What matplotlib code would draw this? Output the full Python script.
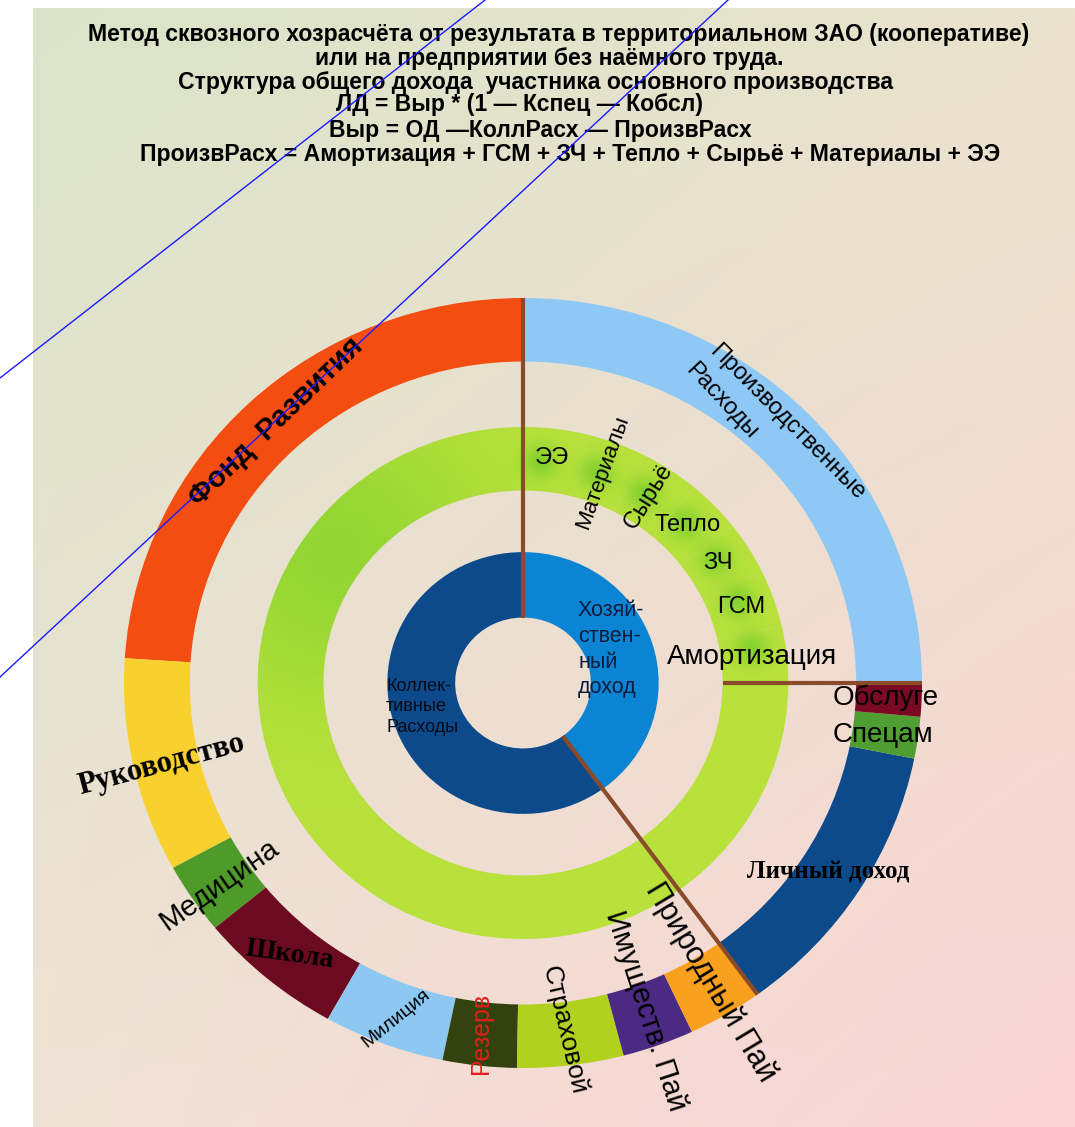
import numpy as np
import matplotlib.pyplot as plt
from matplotlib.patches import Wedge
from matplotlib import font_manager

# outer ring, counterclockwise from 3 o'clock, share of total income (%)
outer_labels = ['Производственные Расходы', 'Фонд  Развития', 'Руководство', 'Медицина',
                'Школа', 'Милиция', 'Резерв', 'Страховой', 'Имуществ. Пай',
                'Природный Пай', 'Личный доход', 'Спецам', 'Обслуге']
outer_values = [25.0, 24.0, 9.0, 3.0, 5.9, 4.9, 3.0, 4.3, 2.9, 3.1, 11.8, 1.75, 1.4]
outer_colors = ['#8ec9f6', '#f44d12', '#f9d12e', '#4f9b2a', '#6c0a22', '#8cc8f2',
                '#33420f', '#b2d11e', '#4a2a82', '#f9a11e', '#0c4a8c', '#4e9e32', '#7a0a24']

# middle ring: production costs, rest of the income unlabelled
middle_labels = ['Амортизация', 'ГСМ', 'ЗЧ', 'Тепло', 'Сырьё', 'Материалы', 'ЭЭ', '']
middle_values = [3.6, 3.6, 3.3, 3.3, 3.6, 3.6, 3.9, 75.1]

# inner ring, counterclockwise from 12 o'clock
inner_labels = ['Коллективные Расходы', 'Хозяйственный доход']
inner_values = [60.0, 40.0]
inner_colors = ['#0c4a8c', '#0b84d4']

title_lines = [
    'Метод сквозного хозрасчёта от результата в территориальном ЗАО (кооперативе)',
    'или на предприятии без наёмного труда.',
    'Структура общего дохода  участника основного производства',
    'ЛД = Выр * (1 — Кспец — Кобсл)',
    'Выр = ОД —КоллРасх — ПроизвРасх',
    'ПроизвРасх = Амортизация + ГСМ + ЗЧ + Тепло + Сырьё + Материалы + ЭЭ',
]

W, H = 1075, 1127
CX, CY = 523, 683          # pie centre in px
RX, RY = 399, 385          # outer radius in px (the picture is slightly squashed)


def P(x, y):
    # pixel position -> data coords (pie radius 1)
    return (x - CX) / RX, (CY - y) / RY


def has_font(name):
    try:
        font_manager.findfont(name, fallback_to_default=False)
        return True
    except Exception:
        return False


sans = 'Liberation Sans' if has_font('Liberation Sans') else 'DejaVu Sans'
serif = 'Liberation Serif' if has_font('Liberation Serif') else 'DejaVu Serif'
narrow = 'Liberation Sans Narrow' if has_font('Liberation Sans Narrow') else sans

fig = plt.figure(figsize=(W / 100, H / 100), dpi=100, facecolor='white')
ax = fig.add_axes([0, 0, 1, 1])
xlim = (P(0, 0)[0], P(W, 0)[0])
ylim = (P(0, H)[1], P(0, 0)[1])

# background panel, soft gradient
corners = np.array([[[218, 228, 200], [234, 227, 206]],
                    [[240, 226, 214], [251, 212, 212]]]) / 255
gy, gx = np.mgrid[0:1:200j, 0:1:200j]
bg = (corners[0, 0] * ((1 - gx) * (1 - gy))[..., None] + corners[0, 1] * (gx * (1 - gy))[..., None]
      + corners[1, 0] * ((1 - gx) * gy)[..., None] + corners[1, 1] * (gx * gy)[..., None])
x0, y1 = P(33, 8)
x1, y0 = P(W, H)
ax.imshow(bg, extent=[x0, x1, y0, y1], origin='upper', aspect='auto', zorder=0)

ring_w = 0.165
outer_w, _ = ax.pie(outer_values, radius=1.0, startangle=0, colors=outer_colors,
                    wedgeprops=dict(width=ring_w, linewidth=0))
mid_w, _ = ax.pie(middle_values, radius=0.665, startangle=0, colors=['#b8e13c'] * len(middle_values),
                  wedgeprops=dict(width=ring_w, linewidth=0))
in_w, _ = ax.pie(inner_values, radius=0.34, startangle=90, colors=inner_colors,
                 wedgeprops=dict(width=0.17, linewidth=0))
for w in outer_w + mid_w + in_w:
    w.set_zorder(1)

# darker green glow at the start of each middle wedge
xs = np.linspace(-0.7, 0.7, 500)
X, Y = np.meshgrid(xs, xs)
alpha = np.zeros_like(X)
for w in mid_w[:-1]:
    a = np.deg2rad(w.theta2 - 4)
    sx, sy = 0.58 * np.cos(a), 0.58 * np.sin(a)
    alpha += 0.6 * np.exp(-((X - sx) ** 2 + (Y - sy) ** 2) / (2 * 0.03 ** 2))
big = mid_w[-1]
a = np.deg2rad(big.theta1 + 55)
alpha += 0.45 * np.exp(-((X - 0.58 * np.cos(a)) ** 2 + (Y - 0.58 * np.sin(a)) ** 2) / (2 * 0.25 ** 2))
glow = np.zeros(X.shape + (4,))
glow[..., :3] = np.array([100, 200, 40]) / 255
glow[..., 3] = np.clip(alpha, 0, 1)
im = ax.imshow(glow, extent=[-0.7, 0.7, -0.7, 0.7], origin='lower', aspect='auto', zorder=2)
ring = Wedge((0, 0), 0.665, 0, 360, width=ring_w, transform=ax.transData)
im.set_clip_path(ring)

# brown separators
brown = '#8a4b2b'
seps = [(in_w[0].theta1, 0.17), (in_w[0].theta2, 0.17), (mid_w[0].theta1, 0.5)]
for ang, r0 in seps:
    t = np.deg2rad(ang)
    ax.plot([r0 * np.cos(t), np.cos(t)], [r0 * np.sin(t), np.sin(t)], color=brown, lw=3,
            solid_capstyle='butt', zorder=3)

# labels: px position, rotation, size, font, weight, colour
S, SB, RB = (sans, 'normal'), (sans, 'bold'), (serif, 'bold')
layout = {
    'Производственные Расходы': [(787, 422, -45, 17, S, 'black'), (722, 401, -47, 17, S, 'black')],
    'Фонд  Развития': [(276, 422, 44, 21, SB, 'black')],
    'Руководство': [(162, 765, 15, 22, RB, 'black')],
    'Медицина': [(219, 885, 35, 21, S, 'black')],
    'Школа': [(290, 955, -8, 20, RB, 'black')],
    'Милиция': [(396, 1018, 39, 14, S, 'black')],
    'Резерв': [(481, 1033, 90, 18, S, '#e0201a')],
    'Страховой': [(564, 1030, -77, 19, S, 'black')],
    'Имуществ. Пай': [(646, 1011, -72, 21, S, 'black')],
    'Природный Пай': [(710, 982, -59, 22, S, 'black')],
    'Личный доход': [(828, 872, 0, 18, RB, 'black')],
    'Спецам': [(883, 735, 0, 20, S, 'black')],
    'Обслуге': [(886, 698, 0, 20, S, 'black')],
    'Амортизация': [(752, 657, 0, 20, S, 'black')],
    'ГСМ': [(741, 607, 0, 17, S, 'black')],
    'ЗЧ': [(718, 563, 0, 17, S, 'black')],
    'Тепло': [(688, 525, 0, 17, S, 'black')],
    'Сырьё': [(649, 496, 58, 17, S, 'black')],
    'Материалы': [(603, 472, 70, 16, S, 'black')],
    'ЭЭ': [(552, 458, 0, 17, S, 'black')],
}
for name in outer_labels + middle_labels:
    if name not in layout:
        continue
    places = layout[name]
    parts = name.split(' ') if len(places) > 1 else [name]
    for part, (x, y, rot, size, (fam, wt), col) in zip(parts, places):
        ax.text(*P(x, y), part, rotation=rot, rotation_mode='anchor', ha='center', va='center',
                fontsize=size, family=fam, weight=wt, color=col, zorder=5)

ax.text(*P(578, 600), 'Хозяй-\nствен-\nный\nдоход', ha='left', va='top', fontsize=15.5,
        family=sans, color='#101c3c', linespacing=1.3, zorder=5)
ax.text(*P(386, 678), 'Коллек-\nтивные\nРасходы', ha='left', va='top', fontsize=13,
        family=sans, color='#0a0a14', linespacing=1.25, zorder=5)

# title, fitted to the width of its first line
title_cx = [559, 549, 536, 519, 540, 570]
title_y = [34, 58, 82, 105, 130, 154]
titles = [ax.text(*P(cx, cy), s, ha='center', va='center', fontsize=14, family=narrow,
                  weight='bold', zorder=5)
          for s, cx, cy in zip(title_lines, title_cx, title_y)]
fig.canvas.draw()
w0 = titles[0].get_window_extent(fig.canvas.get_renderer()).width
for t in titles:
    t.set_fontsize(14 * 942 / w0)

# two stray blue lines crossing the picture
for (xa, ya), (xb, yb) in [((0, 378), (485, 0)), ((0, 677), (728, 0))]:
    ax.plot(*zip(P(xa, ya), P(xb, yb)), color='#1a1aff', lw=1, zorder=10)

ax.set_xlim(xlim)
ax.set_ylim(ylim)
ax.set_aspect('auto')
ax.axis('off')
fig.savefig('out.png', dpi=100, facecolor='white')
